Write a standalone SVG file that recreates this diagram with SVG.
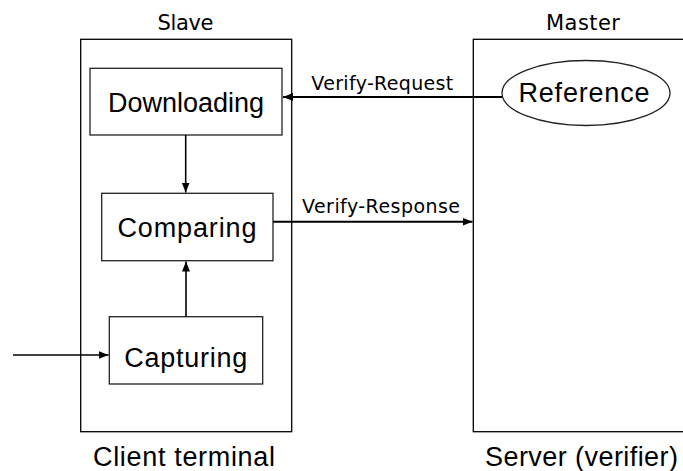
<svg xmlns="http://www.w3.org/2000/svg" width="683" height="471" viewBox="0 0 683 471">
  <style>
    .frame { fill: #ffffff; stroke: #000000; stroke-width: 1.3; }
    .box { fill: #ffffff; stroke: #222222; stroke-width: 1.3; }
    .edge { fill: none; stroke: #000000; stroke-width: 1.6; }
    .big { font-family: "Liberation Sans", Arial, sans-serif; font-size: 27px; fill: #000000; text-anchor: middle; }
    .small { font-family: "DejaVu Sans", Tahoma, sans-serif; font-size: 19px; fill: #000000; text-anchor: middle; }
    .title { font-size: 21px; }
  </style>
  <defs>
    <marker id="arrow" viewBox="0 0 10 10" refX="10" refY="5" markerWidth="10" markerHeight="10" markerUnits="userSpaceOnUse" orient="auto">
      <path d="M0,1 L10,5 L0,9 Z" fill="#000000"/>
    </marker>
  </defs>

  <rect width="683" height="471" fill="#ffffff"/>

  <!-- client side container -->
  <g id="slave">
    <rect class="frame" x="80.7" y="39.3" width="211" height="392.4"/>
    <text class="small title" x="185.5" y="29.5" textLength="56" lengthAdjust="spacing">Slave</text>
    <text class="big" x="184" y="466" textLength="182" lengthAdjust="spacing">Client terminal</text>
  </g>

  <!-- server side container -->
  <g id="master">
    <rect class="frame" x="473.3" y="39.3" width="215" height="392.4"/>
    <text class="small title" x="583" y="30" textLength="74" lengthAdjust="spacing">Master</text>
    <text class="big" x="581.5" y="466" textLength="193" lengthAdjust="spacing">Server (verifier)</text>
  </g>

  <g id="downloading">
    <rect class="box" x="90" y="68.3" width="192" height="66.7"/>
    <text class="big" x="186" y="112" textLength="156" lengthAdjust="spacing">Downloading</text>
  </g>

  <g id="comparing">
    <rect class="box" x="101.7" y="193.3" width="171.3" height="67.4"/>
    <text class="big" x="187" y="237.3" textLength="139" lengthAdjust="spacing">Comparing</text>
  </g>

  <g id="capturing">
    <rect class="box" x="109.3" y="316.7" width="153.4" height="67.3"/>
    <text class="big" x="185.7" y="366.7" textLength="123" lengthAdjust="spacing">Capturing</text>
  </g>

  <g id="reference">
    <ellipse class="box" cx="586" cy="93" rx="84" ry="32.5"/>
    <text class="big" x="584" y="101.7" textLength="131" lengthAdjust="spacing">Reference</text>
  </g>

  <g id="connectors">
    <line class="edge" x1="185.7" y1="135" x2="185.7" y2="192.5" marker-end="url(#arrow)"/>
    <line class="edge" x1="186" y1="316.7" x2="186" y2="261.5" marker-end="url(#arrow)"/>
    <line class="edge" x1="13" y1="355" x2="108.5" y2="355" marker-end="url(#arrow)"/>
    <line class="edge" x1="502" y1="97" x2="283" y2="97" style="stroke-width:2" marker-end="url(#arrow)"/>
    <line class="edge" x1="273" y1="221.7" x2="472.5" y2="221.7" style="stroke-width:2" marker-end="url(#arrow)"/>
    <text class="small" x="382.3" y="89.5" textLength="142" lengthAdjust="spacing">Verify-Request</text>
    <text class="small" x="381" y="212.7" textLength="158" lengthAdjust="spacing">Verify-Response</text>
  </g>
</svg>
